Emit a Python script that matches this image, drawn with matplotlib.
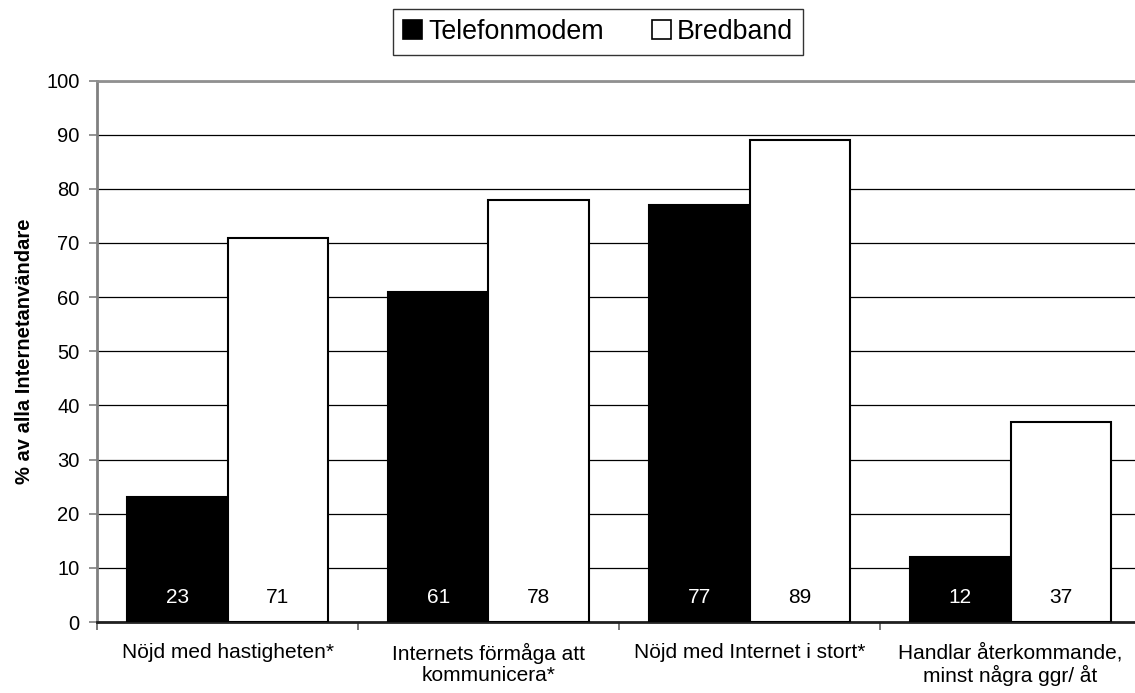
import numpy as np
import matplotlib.pyplot as plt
from matplotlib.patches import Patch

plt.rcParams['font.family'] = ['Liberation Sans', 'DejaVu Sans']

categories = ["Nöjd med hastigheten*",
              "Internets förmåga att\nkommunicera*",
              "Nöjd med Internet i stort*",
              "Handlar återkommande,\nminst några ggr/ åt"]
telefonmodem = [23, 61, 77, 12]
bredband = [71, 78, 89, 37]
series_names = ["Telefonmodem", "Bredband"]

fig = plt.figure(figsize=(11.35, 6.93), dpi=100)
ax = fig.add_axes([97 / 1135, 1 - 622 / 693, 1044 / 1135, 541.5 / 693])

x = np.arange(len(categories))
w = 0.385
ax.bar(x - w / 2, telefonmodem, w, color='black', edgecolor='black', linewidth=1.5, zorder=3)
ax.bar(x + w / 2, bredband, w, color='white', edgecolor='black', linewidth=1.5, zorder=3)

# value labels near the bottom of each bar
for i in range(len(categories)):
    ax.text(x[i] - w / 2, 4.6, str(telefonmodem[i]), color='white', ha='center', va='center',
            fontsize=15, zorder=4)
    ax.text(x[i] + w / 2, 4.6, str(bredband[i]), color='black', ha='center', va='center',
            fontsize=15, zorder=4)

ax.set_xlim(-0.5, 3.5)
ax.set_ylim(0, 100)
ax.set_yticks(np.arange(0, 101, 10))
ax.yaxis.grid(True, color='black', linewidth=0.9, zorder=0)
ax.set_axisbelow(True)
ax.tick_params(axis='y', labelsize=14.5, length=5.5, color='#808080', width=1.2, pad=7)

ax.set_xticks(x)
ax.set_xticklabels(categories, fontsize=15, linespacing=1.15)
ax.set_xticks(np.arange(-0.5, 3.6, 1), minor=True)
ax.tick_params(axis='x', which='major', length=0, pad=15)
ax.tick_params(axis='x', which='minor', length=6, color='#606060', width=1.2)

ax.spines['top'].set_color('#909090')
ax.spines['top'].set_linewidth(2)
ax.spines['left'].set_color('#808080')
ax.spines['left'].set_linewidth(2)
ax.spines['bottom'].set_color('#202020')
ax.spines['bottom'].set_linewidth(2)
ax.spines['right'].set_visible(False)

ax.set_ylabel("% av alla Internetanvändare", fontsize=14.5, fontweight='bold', labelpad=9)

handles = [Patch(facecolor='black', edgecolor='black', linewidth=1.2),
           Patch(facecolor='white', edgecolor='black', linewidth=1.2)]
leg = fig.legend(handles, series_names, loc='center', bbox_to_anchor=(598 / 1135, 1 - 32 / 693),
                 ncol=2, fontsize=19.3, frameon=True, fancybox=False, handlelength=0.7,
                 handleheight=0.7, handletextpad=0.22, columnspacing=1.8, borderpad=0.38)
leg.get_frame().set_edgecolor('black')
leg.get_frame().set_linewidth(1)

fig.savefig("out.png", dpi=100)
